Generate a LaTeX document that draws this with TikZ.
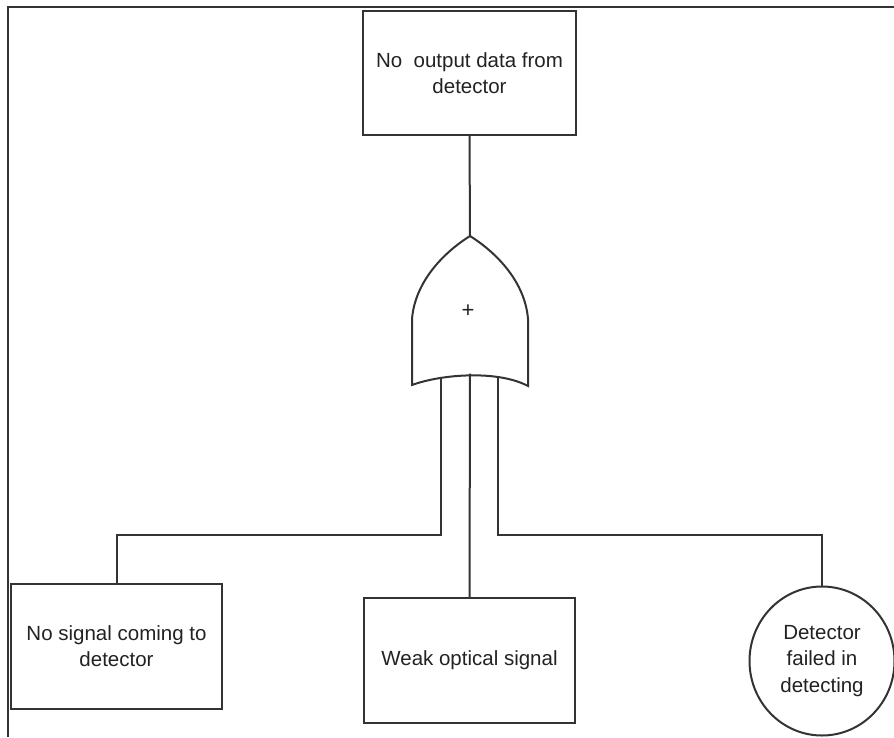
\documentclass[tikz,border=0pt]{standalone}
\usepackage{fontspec}
\setmainfont{Liberation Sans}
\usetikzlibrary{shapes.geometric}
\definecolor{ink}{HTML}{333333}
\definecolor{txt}{HTML}{222222}
\begin{document}
\begin{tikzpicture}[x=1pt,y=-1pt,
  line width=2pt, draw=ink,
  event/.style={draw=ink, line width=2pt, rectangle, inner sep=0pt, align=center,
    text=txt, font=\fontsize{20.5}{26}\selectfont},
  basic/.style={draw=ink, line width=2pt, ellipse, inner sep=0pt, align=center,
    text=txt, font=\fontsize{20.5}{26.5}\selectfont,
    minimum width=145pt, minimum height=149pt},
  wire/.style={draw=ink, line width=2pt}]
\useasboundingbox (0,0) rectangle (894,737);
% outer frame (left and top edges)
\draw[wire] (8,737) -- (8,7) -- (894,7);

% events
\node[event, minimum width=213pt, minimum height=124pt] (top) at (469.5,73)
  {No\ \ output data from\\detector};
\node[event, minimum width=211pt, minimum height=125pt] (left) at (116.5,646.5)
  {No signal coming to\\detector};
\node[event, minimum width=211pt, minimum height=125pt] (mid) at (469.5,660.5)
  {Weak optical signal};
\node[basic] (circ) at (822,661) {Detector\\failed in\\detecting};

% OR gate
\draw[wire, line join=miter] (470,236)
  .. controls (443,253) and (415,282) .. (412,319)
  -- (412,385)
  .. controls (442,374) and (498,370) .. (528,386)
  -- (528,319)
  .. controls (525,282) and (497,253) .. (470,236) -- cycle;
\node[text=txt, font=\fontsize{22}{22}\selectfont] (plus) at (468,311) {+};
\coordinate (gout) at (470,236);
\coordinate (in1) at (441,376.5);
\coordinate (in2) at (470,373.5);
\coordinate (in3) at (498,376.5);

% connectors
\draw[wire] (top.south) -- (gout);
\draw[wire] (in1) -- (in1 |- 0,535) -| (left.north);
\draw[wire] (in2) -- (mid.north);
\draw[wire] (in3) -- (in3 |- 0,535) -| (circ.north);
\end{tikzpicture}
\end{document}
